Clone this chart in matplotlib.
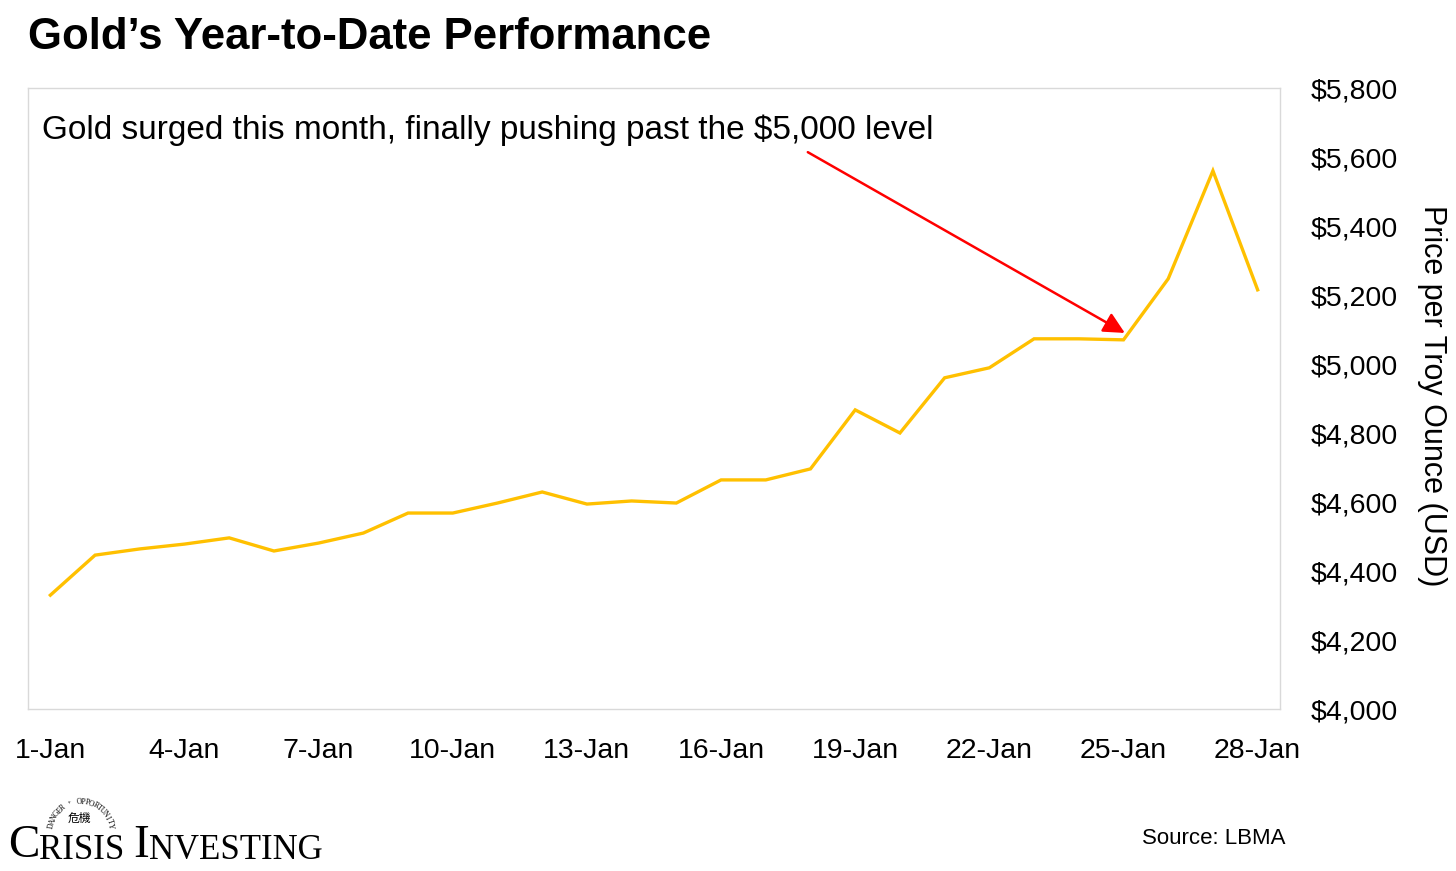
import numpy as np
import matplotlib
matplotlib.use('Agg')
import matplotlib.pyplot as plt
from matplotlib.text import Annotation

plt.rcParams['font.family'] = ['Liberation Sans', 'DejaVu Sans']

# gold price per day, Jan 2026 (LBMA)
days = list(range(1, 29))
price = [4330, 4446, 4464, 4478, 4496, 4458, 4481, 4510, 4568, 4568,
         4597, 4629, 4594, 4603, 4597, 4664, 4664, 4696, 4867, 4800,
         4960, 4989, 5073, 5073, 5070, 5247, 5560, 5215]
tick_days = [1, 4, 7, 10, 13, 16, 19, 22, 25, 28]
tick_labels = ['%d-Jan' % d for d in tick_days]
y_ticks = list(range(4000, 5801, 200))

W, H = 1456, 871
fig = plt.figure(figsize=(W / 100, H / 100), dpi=100)
ax = fig.add_axes([28 / W, 1 - 709 / H, (1280 - 28) / W, (709 - 88) / H])

ax.plot(days, price, color='#FFC000', lw=2.4, solid_joinstyle='miter')
ax.set_xlim(0.5, 28.5)
ax.set_ylim(4000, 5800)

ax.set_xticks(tick_days)
ax.set_xticklabels(tick_labels)
ax.set_yticks(y_ticks)
ax.set_yticklabels(['${:,}'.format(v) for v in y_ticks])
ax.yaxis.tick_right()
ax.tick_params(axis='both', length=0, labelsize=20.5)
ax.tick_params(axis='y', pad=22)
ax.tick_params(axis='x', pad=21)
for s in ax.spines.values():
    s.set_color('#d9d9d9')
    s.set_linewidth(1.0)

fig.text(1432 / W, 1 - 396 / H, 'Price per Troy Ounce (USD)', rotation=270,
         fontsize=22, ha='center', va='center')

# annotation
fig.text(42 / W, 1 - 139 / H, 'Gold surged this month, finally pushing past the $5,000 level',
         fontsize=24, va='baseline', ha='left')
ax.annotate('', xy=(25.03, 5090), xytext=(17.94, 5614),
            arrowprops=dict(arrowstyle='-|>', color='#FF0000', lw=1.8, mutation_scale=32,
                            shrinkA=0, shrinkB=0))

# title
fig.text(28 / W, 1 - 49 / H, 'Gold\u2019s Year-to-Date Performance', fontsize=31.5,
         fontweight='bold', va='baseline', ha='left')

# source
fig.text(1285 / W, 1 - 838 / H, 'Source: LBMA', fontsize=16, va='center', ha='right')

# logo: small-caps serif wordmark
serif = 'Liberation Serif'
parts = [('C', 34), ('RISIS ', 25), ('I', 34), ('NVESTING', 25)]
prev = fig.text(8 / W, 1 - 857 / H, parts[0][0], fontsize=parts[0][1], family=serif,
                va='baseline', ha='left')
for txt, sz in parts[1:]:
    prev = fig.add_artist(Annotation(txt, xy=(1, 0), xycoords=prev, fontsize=sz,
                                     family=serif, va='bottom', ha='left'))

# arc text above logo
cx, cy, r = 81, 832, 30
arc = 'DANGER + OPPORTUNITY'
angs = np.linspace(168, 12, len(arc))
for ch, a in zip(arc, angs):
    px = cx + r * np.cos(np.radians(a))
    py = cy - r * np.sin(np.radians(a))
    fig.text(px / W, 1 - py / H, ch, fontsize=5.5 if ch != '+' else 4.5, family=serif,
             rotation=a - 90, ha='center', va='center')
fig.text(79 / W, 1 - 818 / H, '危機', fontsize=8.5,
         family=['Noto Sans CJK TC', 'DejaVu Sans'], ha='center', va='center')

fig.savefig('out.png', dpi=100)
